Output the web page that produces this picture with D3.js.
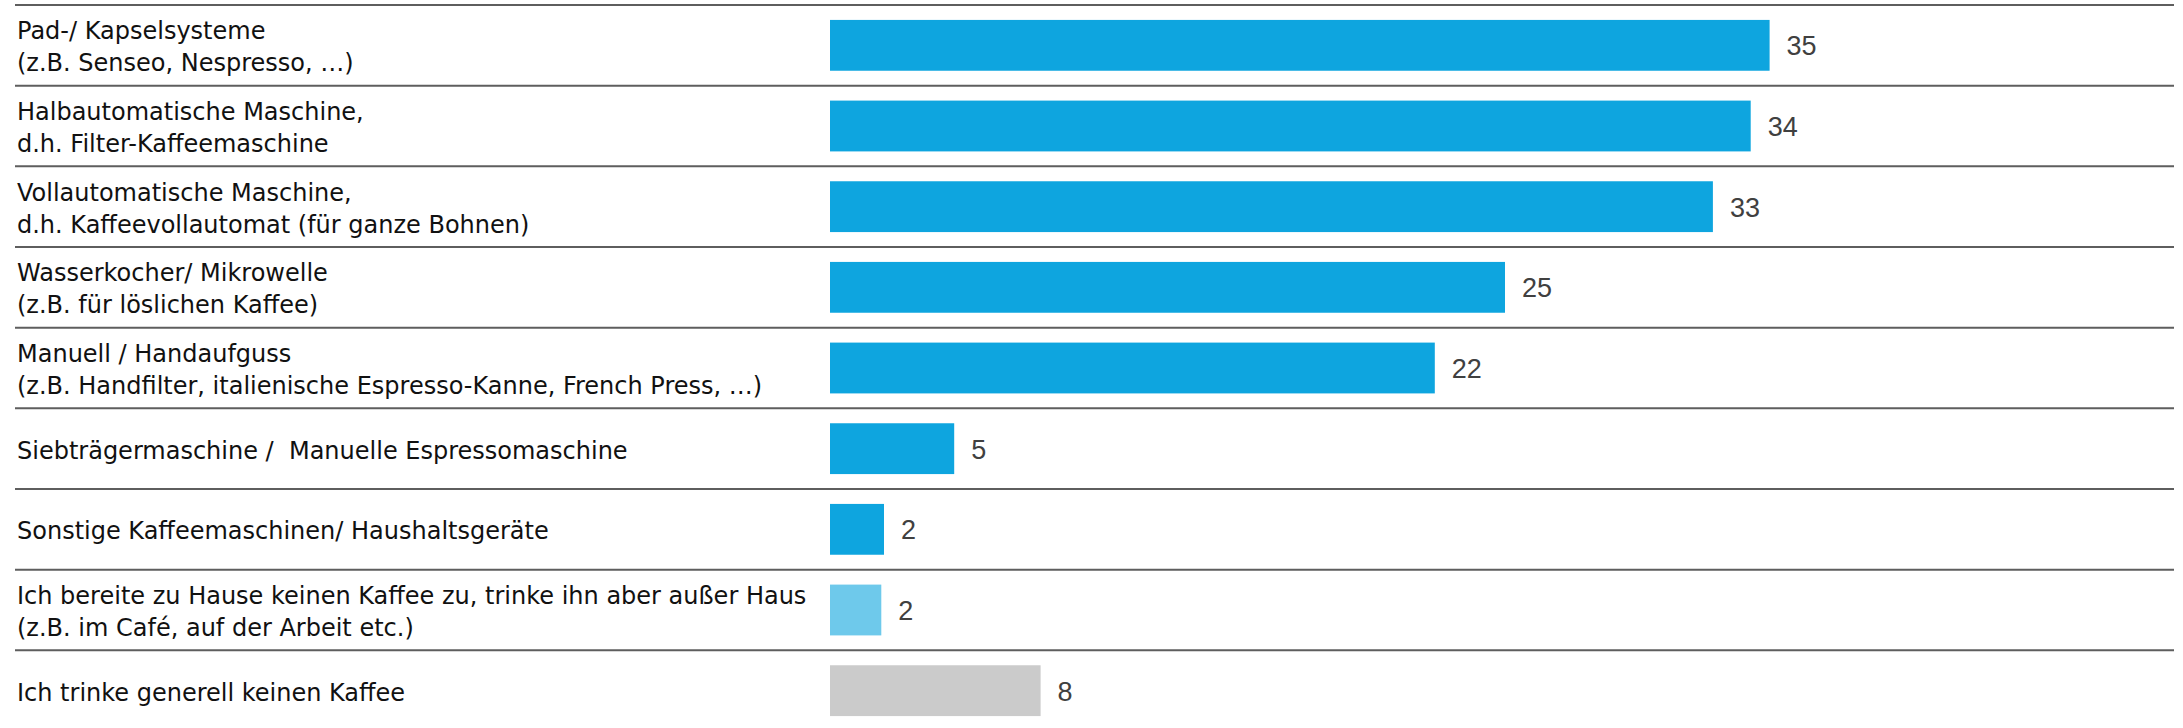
<!DOCTYPE html>
<html lang="de">
<head>
  <meta charset="UTF-8" />
  <title>Zubereitung von Kaffee zu Hause</title>
  <script src="https://d3js.org/d3.v7.min.js"></script>
  <style>
    body { margin:0; padding:0; background:#fff; }
    svg { display:block; background:#fff; }
    .sep { stroke:#5e5e5e; stroke-width:2px; }
    .label { font-family:"DejaVu Sans", sans-serif; font-size:24px; fill:#111; white-space:pre; }
    .value { font-family:"Liberation Sans", sans-serif; font-size:27px; fill:#404040; }
  </style>
</head>
<body>
  <svg></svg>
  <script>
  // categories, one entry per row (lines split on "\n")
  const categories = [
    "Pad-/ Kapselsysteme\n(z.B. Senseo, Nespresso, …)",
    "Halbautomatische Maschine,\nd.h. Filter-Kaffeemaschine",
    "Vollautomatische Maschine,\nd.h. Kaffeevollautomat (für ganze Bohnen)",
    "Wasserkocher/ Mikrowelle\n(z.B. für löslichen Kaffee)",
    "Manuell / Handaufguss\n(z.B. Handfilter, italienische Espresso-Kanne, French Press, …)",
    "Siebträgermaschine /  Manuelle Espressomaschine",
    "Sonstige Kaffeemaschinen/ Haushaltsgeräte",
    "Ich bereite zu Hause keinen Kaffee zu, trinke ihn aber außer Haus\n(z.B. im Café, auf der Arbeit etc.)",
    "Ich trinke generell keinen Kaffee"
  ];
  // share in percent (shown rounded)
  const values = [34.8, 34.1, 32.7, 25.0, 22.4, 4.6, 2.0, 1.9, 7.8];
  // answer group of each row
  const groups = ["zuhause","zuhause","zuhause","zuhause","zuhause","zuhause","zuhause","ausser","kein"];

  const W = 2183, H = 728;
  const svg = d3.select("svg").attr("width", W).attr("height", H);

  const rows = categories.map((c,i) => ({ cat:c, value:values[i], group:groups[i] }));

  const y = d3.scaleBand().domain(categories).range([5, 731]).paddingInner(0.37).paddingOuter(0.185);
  const band = d3.scaleBand().domain(categories).range([5, 731]); // full row, for separators
  const x = d3.scaleLinear().domain([0, 35]).range([830, 1775]);
  const color = d3.scaleOrdinal().domain(["zuhause","ausser","kein"]).range(["#0ea5df","#6ec9eb","#cbcbcb"]);
  const fmt = d3.format(".0f");

  // separator lines on top of each row
  svg.selectAll(".sep").data(categories).enter().append("line")
    .attr("class","sep")
    .attr("x1", 15).attr("x2", 2174)
    .attr("y1", d => band(d)).attr("y2", d => band(d));

  // bars
  svg.selectAll(".bar").data(rows).enter().append("rect")
    .attr("class","bar")
    .attr("x", x(0))
    .attr("y", d => y(d.cat))
    .attr("width", d => x(d.value) - x(0))
    .attr("height", y.bandwidth())
    .attr("fill", d => color(d.group));

  // value labels
  svg.selectAll(".value").data(rows).enter().append("text")
    .attr("class","value")
    .attr("x", d => x(d.value) + 17)
    .attr("y", d => band(d.cat) + band.bandwidth()/2 + 10)
    .text(d => fmt(d.value));

  // category labels
  const lab = svg.selectAll(".label").data(rows).enter().append("text")
    .attr("class","label")
    .attr("x", 17);
  lab.each(function(d){
    const lines = d.cat.split("\n");
    const mid = band(d.cat) + band.bandwidth()/2 + 10;
    const start = mid - (lines.length - 1) * 16;
    d3.select(this).selectAll("tspan").data(lines).enter().append("tspan")
      .attr("x", 17)
      .attr("y", (l,i) => start + i*32)
      .text(l => l);
  });
  </script>
</body>
</html>
